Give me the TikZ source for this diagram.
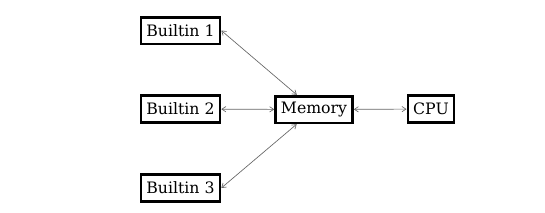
\documentclass[tikz,border=0pt]{standalone}
\usepackage{fontspec}
\setmainfont{DejaVu Serif}
\usetikzlibrary{arrows.meta}
\begin{document}
\begin{tikzpicture}[x=0.75pt,y=-0.75pt,
  box/.style={draw=black,line width=2pt,fill=white,inner xsep=4pt,minimum height=20pt,font=\fontsize{11.8}{14}\selectfont},
  link/.style={draw=black!60,line width=0.5pt,{Straight Barb[length=3pt,width=4pt]}-{Straight Barb[length=3pt,width=4pt]}}]
\useasboundingbox (0,0) rectangle (545,212);
\node[box] (b1) at (180.5,30.5) {Builtin 1};
\node[box] (b2) at (180.5,109) {Builtin 2};
\node[box] (b3) at (180.5,188) {Builtin 3};
\node[box] (mem) at (314,109.5) {Memory};
\node[box] (cpu) at (431,109) {CPU};
\draw[link] (b1.east) -- (mem);
\draw[link] (b2) -- (mem);
\draw[link] (b3.east) -- (mem);
\draw[link] (mem) -- (cpu);
\end{tikzpicture}
\end{document}
